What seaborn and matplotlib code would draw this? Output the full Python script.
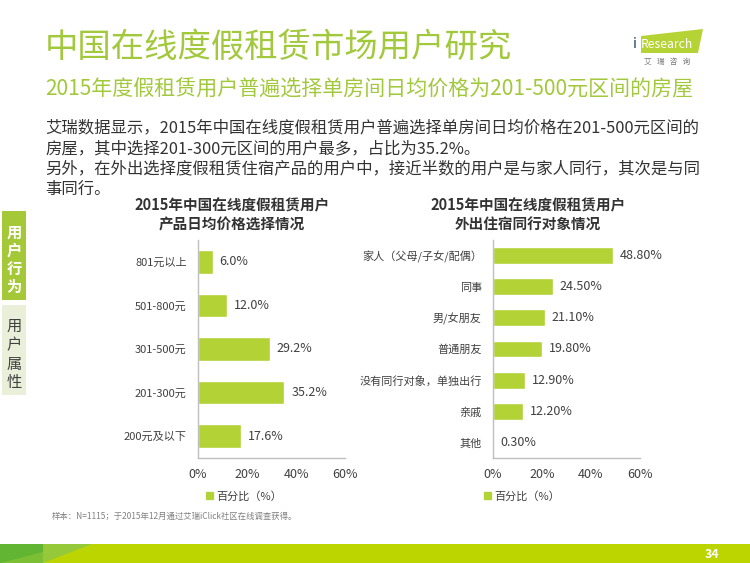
#plot.py
#iResearch slide: 2015 China online vacation rental users

import matplotlib
matplotlib.use('Agg')
import matplotlib.pyplot as plt
from matplotlib.patches import Rectangle, Polygon, Patch
import seaborn as sea

#chart data
price_cats = ['801元以上', '501-800元', '301-500元', '201-300元', '200元及以下']
price_vals = [6.0, 12.0, 29.2, 35.2, 17.6]

companion_cats = ['家人（父母/子女/配偶）', '同事', '男/女朋友', '普通朋友',
                  '没有同行对象，单独出行', '亲戚', '其他']
companion_vals = [48.8, 24.5, 21.1, 19.8, 12.9, 12.2, 0.3]

x_ticks = [0, 20, 40, 60]
x_tick_labels = ['0%', '20%', '40%', '60%']

#colours
BAR = '#b3d236'
TITLE_GREEN = '#a2c83c'
TEXT = '#333333'
W, H = 750, 563

sea.set_theme(style='white')
plt.rcParams['font.family'] = ['Noto Sans CJK SC', 'DejaVu Sans']

fig = plt.figure(figsize=(7.5, 5.63), dpi=100)

#background axes in pixel coordinates for the slide decorations
bg = fig.add_axes([0, 0, 1, 1])
bg.set_xlim(0, W)
bg.set_ylim(H, 0)
bg.axis('off')

#titles
bg.text(45, 47, '中国在线度假租赁市场用户研究', fontsize=24, color=TITLE_GREEN, va='center')
bg.text(45, 88, '2015年度假租赁用户普遍选择单房间日均价格为201-500元区间的房屋',
        fontsize=15.1, color=TITLE_GREEN, va='center')

body = ['艾瑞数据显示，2015年中国在线度假租赁用户普遍选择单房间日均价格在201-500元区间的',
        '房屋，其中选择201-300元区间的用户最多，占比为35.2%。',
        '另外，在外出选择度假租赁住宿产品的用户中，接近半数的用户是与家人同行，其次是与同',
        '事同行。']
for i, line in enumerate(body):
    bg.text(45, 128 + i * 20.5, line, fontsize=11.8, color=TEXT, va='center')

#logo
bg.add_patch(Polygon([(641, 36), (703, 29), (698, 53), (641, 53)], closed=True,
                     facecolor='#b5d334', edgecolor='none'))
bg.text(633, 44, 'i', fontsize=10, color='#1f3864', va='center', ha='left')
bg.text(641, 44, 'Research', fontsize=8.8, color='white', va='center', ha='left')
bg.text(667, 62, '艾   瑞   咨   询', fontsize=5.5, color='#777777', va='center', ha='center')

#side tabs
bg.add_patch(Rectangle((2, 211), 24, 89, facecolor='#a5c838', edgecolor='none'))
bg.add_patch(Rectangle((2, 305), 24, 90, facecolor='#e9efd9', edgecolor='none'))
for i, ch in enumerate('用户行为'):
    bg.text(14, 233 + i * 18, ch, fontsize=11, color='white', fontweight='bold',
            ha='center', va='center')
for i, ch in enumerate('用户属性'):
    bg.text(14, 326 + i * 19, ch, fontsize=11, color='#404040', ha='center', va='center')

#chart titles
bg.text(232, 215, '2015年中国在线度假租赁用户\n产品日均价格选择情况', fontsize=10.5,
        fontweight='bold', color=TEXT, ha='center', va='center', linespacing=1.25)
bg.text(528, 215, '2015年中国在线度假租赁用户\n外出住宿同行对象情况', fontsize=10.5,
        fontweight='bold', color=TEXT, ha='center', va='center', linespacing=1.25)

#footer
bg.text(52, 516, '样本：N=1115；于2015年12月通过艾瑞iClick社区在线调查获得。',
        fontsize=6, color='#808080', va='center')
bg.add_patch(Rectangle((0, 544), W, 19, facecolor='#bcd400', edgecolor='none'))
bg.add_patch(Polygon([(43, 544), (92, 544), (43, 563)], closed=True,
                     facecolor='#96c93a', edgecolor='none'))
bg.add_patch(Rectangle((0, 544), 43, 19, facecolor='#62b532', edgecolor='none'))
bg.add_patch(Polygon([(0, 563), (43, 552), (43, 563)], closed=True,
                     facecolor='#7cbf34', edgecolor='none'))
bg.text(712, 554, '34', fontsize=9, fontweight='bold', color='white', ha='center', va='center')


def bar_chart(left, right, cats, vals, fmt, legend_x):
    ax = fig.add_axes([left / W, 1 - 458 / H, (right - left) / W, 218 / H])
    sea.barplot(x=vals, y=cats, orient='h', color=BAR, width=0.54, saturation=1, ax=ax)
    ax.set_xlim(0, 60)
    ax.set_xticks(x_ticks)
    ax.set_xticklabels(x_tick_labels)
    ax.set_xlabel('')
    ax.set_ylabel('')
    ax.set_facecolor('none')
    for s in ['top', 'right']:
        ax.spines[s].set_visible(False)
    for s in ['left', 'bottom']:
        ax.spines[s].set_color('#bfbfbf')
        ax.spines[s].set_linewidth(1)
    ax.tick_params(axis='x', length=0, pad=7, labelsize=9, labelcolor='#404040')
    ax.tick_params(axis='y', length=0, pad=8, labelsize=8, labelcolor='#404040')
    ax.bar_label(ax.containers[0], labels=[fmt.format(v) for v in vals], padding=5,
                 fontsize=9, color='#404040')
    ax.legend(handles=[Patch(color=BAR)], labels=['百分比（%）'], loc='center',
              bbox_to_anchor=(legend_x / W, 1 - 496 / H), bbox_transform=fig.transFigure,
              frameon=False, fontsize=8, handlelength=0.6, handleheight=0.6,
              handletextpad=0.3, labelcolor='#404040')
    return ax


bar_chart(198, 345, price_cats, price_vals, '{:.1f}%', 244)
bar_chart(493, 640, companion_cats, companion_vals, '{:.2f}%', 522)

fig.savefig('out.png', dpi=100)
